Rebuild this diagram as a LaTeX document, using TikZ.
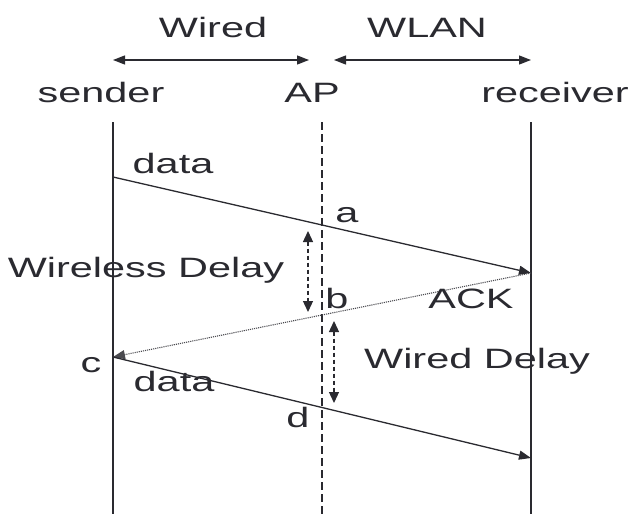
\documentclass[tikz,border=0pt]{standalone}
\usepackage{fontspec}
\setmainfont[FakeStretch=1.48]{Liberation Sans}
\usetikzlibrary{arrows.meta}
\definecolor{ink}{HTML}{2A2A30}
\begin{document}
\begin{tikzpicture}[x=1pt,y=-1pt,
  lbl/.style={anchor=base,inner sep=0pt,text=ink,font=\fontsize{28}{32}\selectfont},
  life/.style={draw=ink,line width=1.4pt},
  msg/.style={draw=ink,line width=1.3pt,-{Triangle[length=12pt,width=9pt]}},
  ack/.style={draw=ink!85,line width=1.1pt,densely dotted,-{Triangle[length=12pt,width=9pt]}},
  span/.style={draw=ink,line width=1.3pt,{Triangle[length=12pt,width=9pt]}-{Triangle[length=12pt,width=9pt]}},
  delay/.style={draw=ink,line width=1.3pt,dash pattern=on 4pt off 3pt,{Triangle[length=11pt,width=10pt]}-{Triangle[length=11pt,width=10pt]}}]
\useasboundingbox (0,0) rectangle (630,514);

% lifelines
\coordinate (sTop) at (113,122); \coordinate (sBot) at (113,514);
\coordinate (aTop) at (322,122); \coordinate (aBot) at (322,514);
\coordinate (rTop) at (531,122); \coordinate (rBot) at (531,514);
\draw[life] (sTop) -- (sBot);
\draw[life] (rTop) -- (rBot);
\draw[life,line width=1.2pt,dash pattern=on 8pt off 4pt] (aTop) -- (aBot);

% segment spans
\coordinate (w1) at (113,60); \coordinate (w2) at (309,60);
\coordinate (l1) at (334,60); \coordinate (l2) at (531,60);
\draw[span] (w1) -- (w2);
\draw[span] (l1) -- (l2);
\node[lbl] (tWired) at (213,37) {Wired};
\node[lbl] (tWlan) at (427,37) {WLAN};
\node[lbl] (tSender) at (101,102) {sender};
\node[lbl] (tAP) at (312,102) {AP};
\node[lbl] (tRecv) at (555,102) {receiver};

% messages
\coordinate (s1) at (113,177); \coordinate (r1) at (531,273);
\coordinate (s2) at (113,357); \coordinate (r2) at (531,458);
\draw[msg] (s1) -- (r1);
\draw[ack] (r1) -- (s2);
\draw[msg] (s2) -- (r2);

\node[lbl] (tData1) at (173,173) {data};
\node[lbl] (tA) at (347,222) {a};
\node[lbl] (tB) at (337,308) {b};
\node[lbl] (tAck) at (471,308) {ACK};
\node[lbl] (tC) at (91,372) {c};
\node[lbl] (tData2) at (174,391) {data};
\node[lbl] (tD) at (298,427) {d};

% delays
\coordinate (wd1) at (308,231); \coordinate (wd2) at (308,312);
\coordinate (dd1) at (334,321); \coordinate (dd2) at (334,403);
\draw[delay] (wd1) -- (wd2);
\draw[delay] (dd1) -- (dd2);
\node[lbl] (tWireless) at (146,277) {Wireless Delay};
\node[lbl] (tWiredD) at (477,368) {Wired Delay};
\end{tikzpicture}
\end{document}
